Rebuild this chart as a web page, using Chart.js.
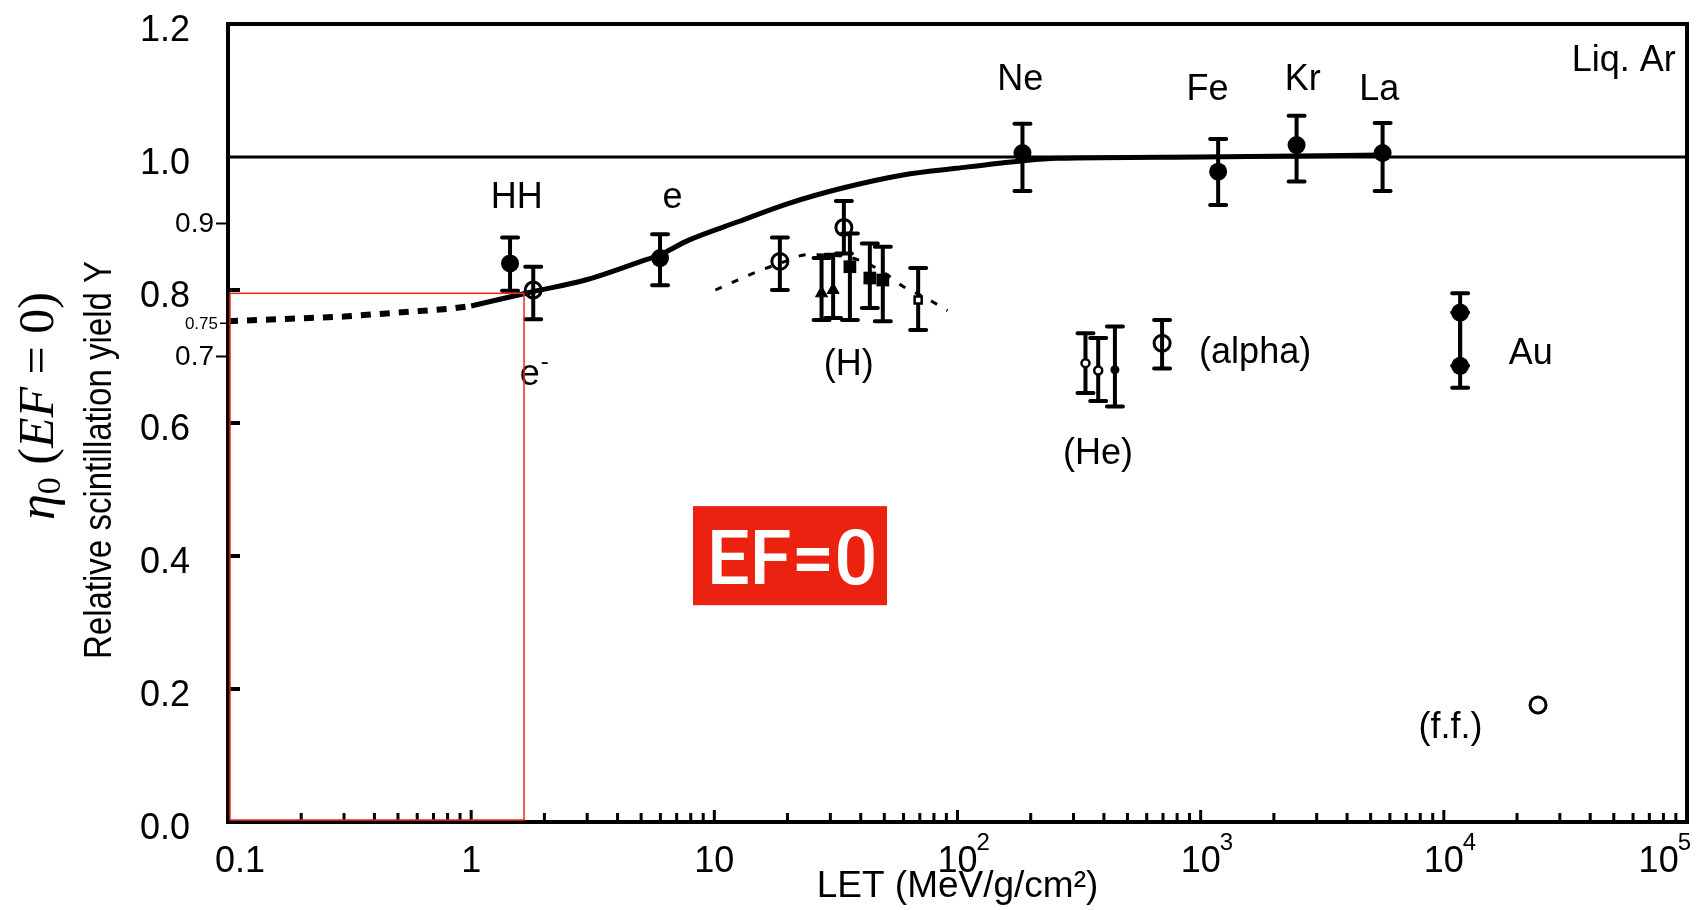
<!DOCTYPE html>
<html>
<head>
<meta charset="utf-8">
<script src="https://cdn.jsdelivr.net/npm/chart.js@4.4.1/dist/chart.umd.min.js"></script>
<style>
  html, body { margin: 0; padding: 0; background: #fff; }
  #wrap { width: 1698px; height: 910px; position: relative; }
</style>
</head>
<body>
<div id="wrap"><canvas id="chart"></canvas></div>
<script>
const xTicks = [0.1, 1, 10, 100, 1000, 10000, 100000];
const xTickBase = ['0.1', '1', '10', '10', '10', '10', '10'];
const xTickExp  = ['', '', '', '2', '3', '4', '5'];
const yTicks = [0, 0.2, 0.4, 0.6, 0.8, 1.0, 1.2];
const yExtraTicks = [0.9, 0.75, 0.7];

// filled circles: HH, e, Ne, Fe, Kr, La, Au, Au
const fullLET = [1.445, 5.98, 185, 1180, 2480, 5600, 11670, 11670];
const fullY   = [0.840, 0.848, 1.006, 0.978, 1.018, 1.006, 0.766, 0.686];
const fullLo  = [0.799, 0.807, 0.949, 0.928, 0.963, 0.949, 0.686, 0.653];
const fullHi  = [0.879, 0.884, 1.050, 1.027, 1.062, 1.051, 0.795, 0.766];

// open circles: e-, H, H, alpha, f.f.
const openLET = [1.80, 18.6, 34.1, 694, 24400];
const openY   = [0.800, 0.843, 0.894, 0.720, 0.176];
const openLo  = [0.756, 0.800, 0.855, 0.682, null];
const openHi  = [0.835, 0.879, 0.934, 0.755, null];

// He points
const heOpenLET = [336, 379];
const heOpenY   = [0.690, 0.679];
const heOpenLo  = [0.645, 0.633];
const heOpenHi  = [0.735, 0.728];
const heDotLET = [444];
const heDotY   = [0.680];
const heDotLo  = [0.625];
const heDotHi  = [0.745];

// H cluster
const hTriLET = [27.6, 30.8];
const hTriY   = [0.795, 0.800];
const hTriLo  = [0.755, 0.758];
const hTriHi  = [0.848, 0.853];
const hSqLET = [36.1, 43.6, 49.3];
const hSqY   = [0.835, 0.818, 0.815];
const hSqLo  = [0.755, 0.773, 0.753];
const hSqHi  = [0.885, 0.870, 0.865];
const hOpenSqLET = [68.9];
const hOpenSqY   = [0.785];
const hOpenSqLo  = [0.740];
const hOpenSqHi  = [0.833];

// curves
const fitLET = [1.0, 1.77, 2.95, 4.9, 5.98, 7.85, 12.6, 20.1, 33.4, 59.7, 99, 183, 256, 1000, 5600];
const fitY   = [0.776, 0.797, 0.815, 0.842, 0.853, 0.875, 0.903, 0.930, 0.953, 0.973, 0.983, 0.994, 0.998, 1.0, 1.003];
const lowLET = [0.1, 0.3, 0.83, 1.0];
const lowY   = [0.753, 0.760, 0.772, 0.776];
const hLineLET = [10.1, 15.1, 18.6, 24.1, 35, 48, 60, 75, 91];
const hLineY   = [0.800, 0.828, 0.840, 0.853, 0.850, 0.830, 0.805, 0.787, 0.769];
const refLET = [0.1, 100000];
const refY   = [1.0, 1.0];

// annotations
const labelText = ['HH', 'e', 'Ne', 'Fe', 'Kr', 'La', 'Liq. Ar', 'e', '(H)', '(alpha)', 'Au', '(He)', '(f.f.)'];
const labelLET  = [1.54, 6.73, 181, 1067, 2630, 5430, 89900, 1.74, 35.7, 1675, 22800, 378, 10640];
const labelY    = [0.923, 0.923, 1.101, 1.086, 1.101, 1.086, 1.130, 0.657, 0.672, 0.690, 0.688, 0.539, 0.126];
const redBoxLET = [0.1, 1.65];
const redBoxY   = [0, 0.795];
const efBoxLET  = [8.17, 51.3];
const efBoxY    = [0.326, 0.475];

const SANS = "'Liberation Sans', Arial, sans-serif";
const SERIF = "'Liberation Serif', 'DejaVu Serif', serif";

function pts(xs, ys) {
  return xs.map((v, i) => ({ x: v, y: ys[i] }));
}

const decor = {
  id: 'decor',
  beforeDatasetsDraw(chart) {
    const { ctx, scales: { x, y } } = chart;
    ctx.save();
    ctx.strokeStyle = '#000';
    ctx.lineWidth = 4;
    ctx.lineCap = 'round';
    chart.data.datasets.forEach(ds => {
      if (!ds.errLo) return;
      ds.data.forEach((p, i) => {
        const lo = ds.errLo[i], hi = ds.errHi[i];
        if (lo == null) return;
        const px = x.getPixelForValue(p.x);
        const y1 = y.getPixelForValue(lo), y2 = y.getPixelForValue(hi);
        ctx.beginPath();
        ctx.moveTo(px, y1); ctx.lineTo(px, y2);
        ctx.moveTo(px - 8, y1); ctx.lineTo(px + 8, y1);
        ctx.moveTo(px - 8, y2); ctx.lineTo(px + 8, y2);
        ctx.stroke();
      });
    });
    ctx.restore();
  },
  afterDatasetsDraw(chart) {
    const { ctx, chartArea: a, scales: { x, y } } = chart;
    ctx.save();

    // frame
    ctx.strokeStyle = '#000';
    ctx.lineWidth = 4;
    ctx.strokeRect(a.left, a.top, a.right - a.left, a.bottom - a.top);

    // inward x ticks
    ctx.lineWidth = 3;
    ctx.beginPath();
    for (let d = -1; d < 5; d++) {
      for (let m = 1; m <= 10; m++) {
        const v = m * Math.pow(10, d);
        const px = x.getPixelForValue(v);
        const len = (m === 1 || m === 10) ? 12 : 9;
        ctx.moveTo(px, a.bottom);
        ctx.lineTo(px, a.bottom - len);
      }
    }
    ctx.stroke();

    // x tick labels with raised exponents
    ctx.fillStyle = '#000';
    ctx.textAlign = 'left';
    ctx.textBaseline = 'alphabetic';
    x.ticks.forEach((t, i) => {
      const px = x.getPixelForValue(t.value);
      ctx.font = '36px ' + SANS;
      const wb = ctx.measureText(xTickBase[i]).width;
      ctx.font = '24px ' + SANS;
      const we = xTickExp[i] ? ctx.measureText(xTickExp[i]).width : 0;
      let left = px - wb / 2;
      left = Math.max(left, a.left - 13);
      left = Math.min(left, a.right + 5 - wb - we);
      const base = a.bottom + 50;
      ctx.font = '36px ' + SANS;
      ctx.fillText(xTickBase[i], left, base);
      if (xTickExp[i]) {
        ctx.font = '24px ' + SANS;
        ctx.fillText(xTickExp[i], left + wb - 1, base - 22);
      }
    });

    // inward y ticks
    ctx.lineWidth = 4;
    ctx.beginPath();
    yTicks.slice(1, 5).forEach(v => {
      const py = y.getPixelForValue(v);
      ctx.moveTo(a.left, py);
      ctx.lineTo(a.left + 12, py);
    });
    ctx.stroke();

    // extra y ticks (outward) with labels
    const extraSize = [28, 17, 28];
    yExtraTicks.forEach((v, i) => {
      const py = y.getPixelForValue(v);
      const len = extraSize[i] < 20 ? 6 : 10;
      ctx.lineWidth = extraSize[i] < 20 ? 1.5 : 2;
      ctx.beginPath();
      ctx.moveTo(a.left - 2, py);
      ctx.lineTo(a.left - 2 - len, py);
      ctx.stroke();
      ctx.fillStyle = '#000';
      ctx.font = extraSize[i] + 'px ' + SANS;
      ctx.textAlign = 'right';
      ctx.textBaseline = 'middle';
      ctx.fillText(String(v), a.left - 4 - len, py + 1);
    });

    // point labels
    ctx.fillStyle = '#000';
    ctx.textBaseline = 'alphabetic';
    labelText.forEach((t, i) => {
      const px = x.getPixelForValue(labelLET[i]);
      const py = y.getPixelForValue(labelY[i]);
      ctx.font = '36px ' + SANS;
      ctx.textAlign = t === 'Liq. Ar' ? 'right' : 'center';
      ctx.fillText(t, px, py);
      if (i === 7) {
        const w = ctx.measureText(t).width;
        ctx.font = '24px ' + SANS;
        ctx.textAlign = 'left';
        ctx.fillText('-', px + w / 2 + 1, py - 16);
      }
    });

    // y-axis titles
    const cy = (a.top + a.bottom) / 2;
    ctx.save();
    ctx.translate(101, cy + 37);
    ctx.rotate(-Math.PI / 2);
    ctx.scale(1, 1.15);
    ctx.font = '33px ' + SANS;
    ctx.textAlign = 'center';
    ctx.textBaseline = 'middle';
    ctx.fillText('Relative scintillation yield Y', 0, 0);
    ctx.restore();

    ctx.save();
    ctx.translate(40, cy - 17);
    ctx.rotate(-Math.PI / 2);
    ctx.textAlign = 'left';
    ctx.textBaseline = 'middle';
    const parts = [
      { t: 'η', f: 'italic 52px ' + SERIF, dy: 0 },
      { t: '0', f: '34px ' + SERIF, dy: 11 },
      { t: ' (', f: '50px ' + SERIF, dy: 0 },
      { t: 'EF', f: 'italic 50px ' + SERIF, dy: 0 },
      { t: ' = 0)', f: '50px ' + SERIF, dy: 0 }
    ];
    let total = 0;
    parts.forEach(p => { ctx.font = p.f; p.w = ctx.measureText(p.t).width; total += p.w; });
    let cx = -total / 2;
    parts.forEach(p => { ctx.font = p.f; ctx.fillText(p.t, cx, p.dy); cx += p.w; });
    ctx.restore();

    // red outline box
    const rx1 = x.getPixelForValue(redBoxLET[0]), rx2 = x.getPixelForValue(redBoxLET[1]);
    const ry1 = y.getPixelForValue(redBoxY[1]), ry2 = y.getPixelForValue(redBoxY[0]);
    ctx.strokeStyle = '#ee2a1a';
    ctx.lineWidth = 1.5;
    ctx.strokeRect(rx1 + 2, ry1, rx2 - rx1 - 2, ry2 - ry1 - 2);

    // EF=0 tag
    const ex1 = x.getPixelForValue(efBoxLET[0]), ex2 = x.getPixelForValue(efBoxLET[1]);
    const ey1 = y.getPixelForValue(efBoxY[1]), ey2 = y.getPixelForValue(efBoxY[0]);
    ctx.fillStyle = '#ec2210';
    ctx.fillRect(ex1, ey1, ex2 - ex1, ey2 - ey1);
    ctx.fillStyle = '#fff';
    ctx.font = '500 76px Roboto, ' + SANS;
    ctx.textAlign = 'center';
    ctx.textBaseline = 'alphabetic';
    ctx.fillText('EF=0', (ex1 + ex2) / 2 + 2, (ey1 + ey2) / 2 + 28);

    ctx.restore();
  }
};

const lineBase = { showLine: true, pointRadius: 0, borderColor: '#000', fill: false, order: 10 };

new Chart(document.getElementById('chart'), {
  type: 'scatter',
  data: {
    datasets: [
      { label: 'ions', data: pts(fullLET, fullY), errLo: fullLo, errHi: fullHi,
        pointStyle: 'circle', pointRadius: 9, backgroundColor: '#000', borderWidth: 0, order: 1 },
      { label: 'open', data: pts(openLET, openY), errLo: openLo, errHi: openHi,
        pointStyle: 'circle', pointRadius: 8, backgroundColor: 'rgba(0,0,0,0)', borderColor: '#000', borderWidth: 3, order: 1 },
      { label: 'He open', data: pts(heOpenLET, heOpenY), errLo: heOpenLo, errHi: heOpenHi,
        pointStyle: 'circle', pointRadius: 4, backgroundColor: '#fff', borderColor: '#000', borderWidth: 2.5, order: 1 },
      { label: 'He dot', data: pts(heDotLET, heDotY), errLo: heDotLo, errHi: heDotHi,
        pointStyle: 'circle', pointRadius: 4.5, backgroundColor: '#000', borderWidth: 0, order: 1 },
      { label: 'H tri', data: pts(hTriLET, hTriY), errLo: hTriLo, errHi: hTriHi,
        pointStyle: 'triangle', pointRadius: 7, backgroundColor: '#000', borderColor: '#000', borderWidth: 1, order: 1 },
      { label: 'H sq', data: pts(hSqLET, hSqY), errLo: hSqLo, errHi: hSqHi,
        pointStyle: 'rect', pointRadius: 9, backgroundColor: '#000', borderWidth: 0, order: 1 },
      { label: 'H open sq', data: pts(hOpenSqLET, hOpenSqY), errLo: hOpenSqLo, errHi: hOpenSqHi,
        pointStyle: 'rect', pointRadius: 5, backgroundColor: '#fff', borderColor: '#000', borderWidth: 2.5, order: 1 },
      Object.assign({ label: 'fit', data: pts(fitLET, fitY), borderWidth: 5, cubicInterpolationMode: 'monotone' }, lineBase),
      Object.assign({ label: 'low', data: pts(lowLET, lowY), borderWidth: 6, borderDash: [10, 9] }, lineBase),
      Object.assign({ label: 'H line', data: pts(hLineLET, hLineY), borderWidth: 3, borderDash: [7, 11], cubicInterpolationMode: 'monotone' }, lineBase),
      Object.assign({ label: 'ref', data: pts(refLET, refY), borderWidth: 3 }, lineBase)
    ]
  },
  options: {
    responsive: true,
    maintainAspectRatio: false,
    animation: false,
    events: [],
    layout: { padding: { top: 24, right: 10, left: 0, bottom: 0 } },
    plugins: { legend: { display: false }, tooltip: { enabled: false } },
    scales: {
      x: {
        type: 'logarithmic',
        min: 0.1,
        max: 100000,
        afterBuildTicks: s => { s.ticks = xTicks.map(v => ({ value: v, major: true })); },
        afterFit: s => { s.height = 88; s.paddingLeft = 0; s.paddingRight = 0; },
        grid: { display: false, drawTicks: false },
        border: { display: false },
        ticks: { display: false },
        title: {
          display: true,
          text: 'LET (MeV/g/cm²)',
          color: '#000',
          font: { family: SANS, size: 37 },
          padding: { top: 0, bottom: 1 }
        }
      },
      y: {
        type: 'linear',
        min: 0,
        max: 1.2,
        afterBuildTicks: s => { s.ticks = yTicks.map(v => ({ value: v })); },
        afterFit: s => { s.width = 228; s.paddingTop = 0; s.paddingBottom = 0; },
        grid: { display: false, drawTicks: false },
        border: { display: false },
        ticks: {
          callback: v => v.toFixed(1),
          padding: 38,
          labelOffset: 7,
          color: '#000',
          font: { family: SANS, size: 36 }
        }
      }
    }
  },
  plugins: [decor]
});
</script>
</body>
</html>
